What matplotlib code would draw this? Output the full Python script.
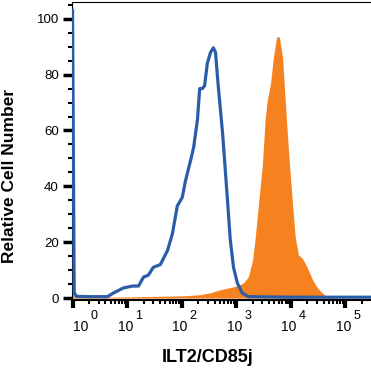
import numpy as np
import matplotlib
matplotlib.use("Agg")
import matplotlib.pyplot as plt
import matplotlib.ticker as mticker
from matplotlib.transforms import ScaledTranslation, blended_transform_factory

plt.rcParams['font.family'] = ['Liberation Sans', 'DejaVu Sans']

# isotype control (blue outline), x in log10 units
iso_log = [0.0, 0.03, 0.07, 0.3, 0.64, 0.75, 0.93, 1.10, 1.21, 1.30, 1.39, 1.48, 1.61,
           1.74, 1.83, 1.92, 2.01, 2.07, 2.16, 2.22, 2.29, 2.33, 2.38, 2.42, 2.47,
           2.53, 2.58, 2.62, 2.67, 2.75, 2.84, 2.89, 2.95, 3.02, 3.11, 3.22, 4.0, 5.5]
iso_val = [103, 2.0, 0.6, 0.5, 0.5, 1.8, 3.6, 4.3, 4.3, 7.5, 8.2, 11, 12,
           17, 23, 33, 36, 42, 49, 54, 64, 75, 75, 76, 84,
           88, 89.6, 88, 76, 59, 35, 21, 11, 5.4, 1.8, 0.5, 0.3, 0.3]

# ILT2/CD85j stained (orange filled)
ilt_log = [0.0, 0.03, 0.6, 1.0, 1.5, 2.03, 2.34, 2.55, 2.71, 2.85, 2.95, 3.05, 3.13,
           3.22, 3.30, 3.35, 3.41, 3.48, 3.53, 3.57, 3.63, 3.68, 3.74, 3.79, 3.85,
           3.90, 3.96, 4.03, 4.08, 4.14, 4.21, 4.30, 4.40, 4.49, 4.58, 4.67, 4.82, 5.5]
ilt_val = [3, 0.3, 0.3, 0.4, 0.6, 0.8, 1.2, 2.0, 3.0, 3.6, 4.0, 4.6, 5.4,
           7.5, 13.6, 22, 34, 48, 64, 71, 77, 86, 93.5, 93.5, 86,
           70, 52, 34, 22, 15.4, 14.3, 11, 6.5, 3.6, 1.8, 0.4, 0, 0]

decades = [0, 1, 2, 3, 4, 5]
yticks = [0, 20, 40, 60, 80, 100]

fig = plt.figure(figsize=(3.71, 3.72), dpi=100)
ax = fig.add_axes([72 / 371, 1 - 300 / 372, 1 - 72 / 371, 298 / 372])

ax.fill_between(10 ** np.array(ilt_log), ilt_val, 0, color='#f5821f', lw=0, zorder=2)
ax.plot(10 ** np.array(iso_log), iso_val, color='#2a5ca8', lw=2.3, zorder=3,
        solid_joinstyle='round')

ax.set_xscale('log')
ax.set_xlim(10 ** -0.01, 10 ** 5.47)
ax.set_ylim(-0.7, 106)

ax.xaxis.set_major_locator(mticker.FixedLocator([10 ** d for d in decades]))
ax.xaxis.set_minor_locator(mticker.LogLocator(base=10, subs=np.arange(2, 10), numticks=20))
ax.xaxis.set_major_formatter(mticker.NullFormatter())
ax.xaxis.set_minor_formatter(mticker.NullFormatter())

# decade labels: "10" under the tick, exponent raised just to its right
trans = blended_transform_factory(ax.transData, ax.transAxes)
px = 1 / fig.dpi
for d in decades:
    shift = 10 if d == 0 else 0
    ax.text(10 ** d, 0, '10', fontsize=10, ha='right', va='center', clip_on=False,
            transform=trans + ScaledTranslation((shift + 6) * px, -27 * px, fig.dpi_scale_trans))
    ax.text(10 ** d, 0, str(d), fontsize=9, ha='left', va='center', clip_on=False,
            transform=trans + ScaledTranslation((shift + 8) * px, -16 * px, fig.dpi_scale_trans))

ax.set_yticks(yticks)
ax.yaxis.set_minor_locator(mticker.MultipleLocator(5))

ax.tick_params(axis='x', which='major', length=6, width=3, color='black')
ax.tick_params(axis='x', which='minor', length=3, width=1.5, color='black')
ax.tick_params(axis='y', which='major', length=6.5, width=2.5, pad=3, labelsize=9.5, color='black')
ax.tick_params(axis='y', which='minor', length=3, width=1.5, color='black')

for s in ['left', 'top']:
    ax.spines[s].set_linewidth(0.8)
ax.spines['bottom'].set_linewidth(1.5)
ax.spines['right'].set_visible(False)

fig.text(10 / 371, 1 - 176 / 372, 'Relative Cell Number', rotation=90, fontsize=12.5,
         fontweight='bold', ha='center', va='center')
fig.text(208 / 371, 1 - 357 / 372, 'ILT2/CD85j', fontsize=13, fontweight='bold',
         ha='center', va='center')

fig.savefig('out.png', dpi=100)
